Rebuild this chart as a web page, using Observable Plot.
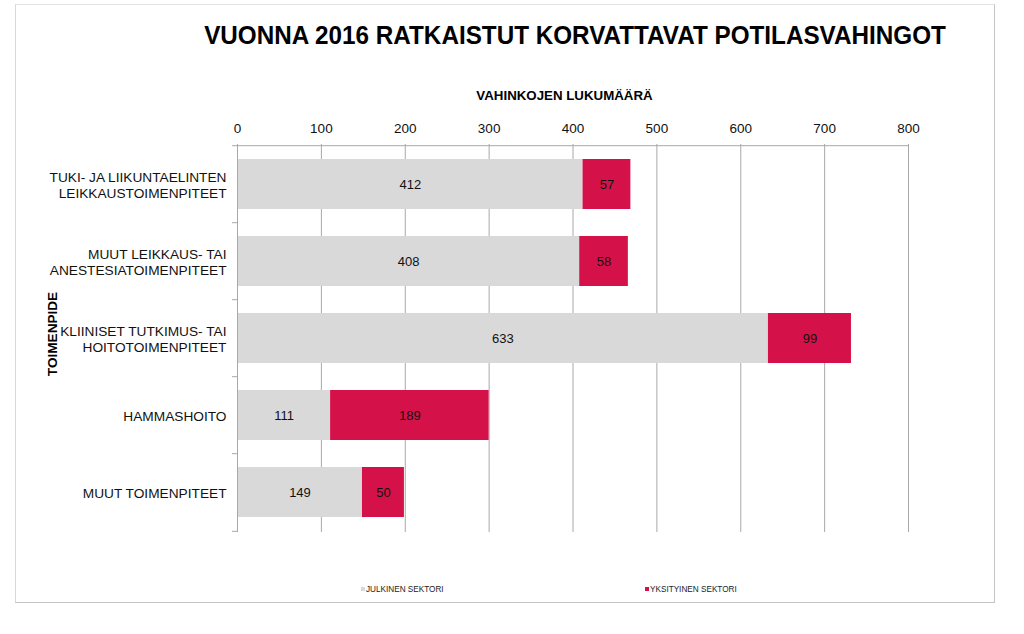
<!DOCTYPE html>
<html>
<head>
<meta charset="utf-8">
<script src="https://cdn.jsdelivr.net/npm/d3@7"></script>
<script src="https://cdn.jsdelivr.net/npm/@observablehq/plot@0.6"></script>
<style>
  html, body { margin: 0; padding: 0; background: #fff; }
  #wrap { position: relative; width: 1024px; height: 634px; overflow: hidden; font-family: "Liberation Sans", Arial, sans-serif; }
  #frame { position: absolute; left: 15px; top: 4px; width: 980px; height: 599px; border: 1px solid #c4c4c4; border-left-color: #d8d8d8; border-top-color: #e4e4e4; box-sizing: border-box; }
  #title { position: absolute; left: 575px; top: 20px; transform: translateX(-50%) scaleX(0.933); white-space: nowrap; font-weight: bold; font-size: 26px; color: #000; }
  #xlabel { position: absolute; left: 229px; width: 671px; top: 88px; text-align: center; font-weight: bold; font-size: 13.3px; color: #000; }
  #ylabel { position: absolute; left: 52px; top: 334px; transform: translate(-50%, -50%) rotate(-90deg); font-weight: bold; font-size: 13.6px; white-space: nowrap; }
  .leg { position: absolute; top: 585px; font-size: 8.2px; color: #222; white-space: nowrap; }
  .sw { display: inline-block; width: 4px; height: 4px; margin-right: 1px; vertical-align: 1px; }
  #chart { position: absolute; left: 0; top: 0; }
</style>
</head>
<body>
<div id="wrap">
  <div id="frame"></div>
  <div id="chart"></div>
  <div id="title"></div>
  <div id="xlabel"></div>
  <div id="ylabel"></div>
  <div id="legend"></div>
</div>
<script>
const title = "VUONNA 2016 RATKAISTUT KORVATTAVAT POTILASVAHINGOT";
const xLabel = "VAHINKOJEN LUKUMÄÄRÄ";
const yLabel = "TOIMENPIDE";
const categories = [
  "TUKI- JA LIIKUNTAELINTEN\nLEIKKAUSTOIMENPITEET",
  "MUUT LEIKKAUS- TAI\nANESTESIATOIMENPITEET",
  "KLIINISET TUTKIMUS- TAI\nHOITOTOIMENPITEET",
  "HAMMASHOITO",
  "MUUT TOIMENPITEET"
];
const sectors = ["JULKINEN SEKTORI", "YKSITYINEN SEKTORI"];
const julkinen = [412, 408, 633, 111, 149];
const yksityinen = [57, 58, 99, 189, 50];
const xTicks = [0, 100, 200, 300, 400, 500, 600, 700, 800];
const colors = ["#d9d9d9", "#d5114a"];

const data = [];
categories.forEach((c, i) => {
  data.push({cat: c, sector: sectors[0], value: julkinen[i]});
  data.push({cat: c, sector: sectors[1], value: yksityinen[i]});
});

document.getElementById("title").textContent = title;
document.getElementById("xlabel").textContent = xLabel;
document.getElementById("ylabel").textContent = yLabel;

const W = 1024, H = 634;
const mL = 237, mR = 116, mT = 144, mB = 102;
const step = (H - mT - mB) / categories.length;
const gridColor = "#a8a8a8";

const chart = Plot.plot({
  width: W,
  height: H,
  marginLeft: mL,
  marginRight: mR,
  marginTop: mT,
  marginBottom: mB,
  style: {fontFamily: "'Liberation Sans', Arial, sans-serif", background: "transparent", overflow: "visible"},
  x: {domain: [0, 800], axis: null},
  y: {domain: categories, paddingInner: 0.355, paddingOuter: 0.1775, axis: null},
  color: {domain: sectors, range: colors},
  marks: [
    Plot.ruleX(xTicks, {stroke: gridColor, strokeWidth: 1}),
    Plot.barX(data, Plot.stackX({x: "value", y: "cat", fill: "sector", order: sectors})),
    Plot.text(data, Plot.stackX({x: "value", y: "cat", z: "sector", text: d => String(d.value), order: sectors, fill: "#111", fontSize: 13})),
    // top axis line
    Plot.ruleY([categories[0]], {x1: 0, x2: 800, dy: -step / 2, stroke: gridColor}),
    // left axis line
    Plot.ruleX([0], {stroke: gridColor}),
    // boundary ticks on left axis
    Plot.ruleY(categories, {x1: -6, x2: 0, dy: -step / 2, stroke: gridColor}),
    Plot.ruleY([categories[categories.length - 1]], {x1: -6, x2: 0, dy: step / 2, stroke: gridColor}),
    // x tick labels
    Plot.text(xTicks, {x: d => d, frameAnchor: "top", dy: -21, text: d => String(d), fontSize: 13.5, fill: "#111"}),
    // y category labels
    Plot.text(categories, {y: d => d, frameAnchor: "left", dx: -11, textAnchor: "end", text: d => d, fontSize: 13.7, lineHeight: 1.2, fill: "#111"})
  ]
});
document.getElementById("chart").appendChild(chart);

const legend = document.getElementById("legend");
const legX = [361, 645];
sectors.forEach((s, i) => {
  const el = document.createElement("div");
  el.className = "leg";
  el.style.left = legX[i] + "px";
  el.innerHTML = `<span class="sw" style="background:${colors[i]}"></span>${s}`;
  legend.appendChild(el);
});
</script>
</body>
</html>
